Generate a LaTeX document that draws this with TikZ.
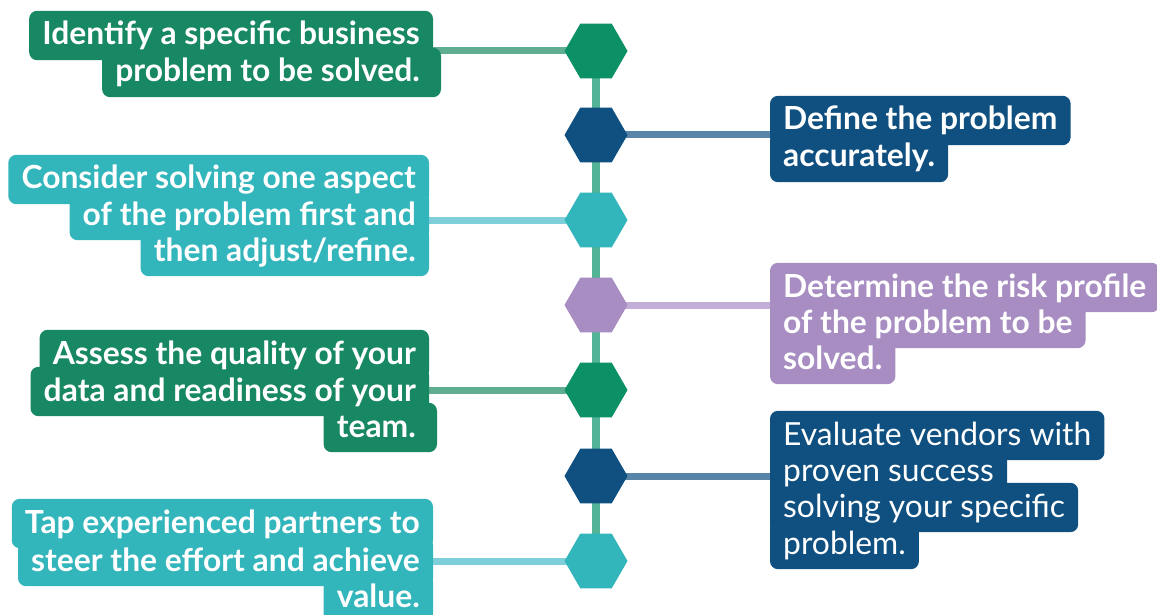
\documentclass[tikz,border=0pt]{standalone}
\usepackage{fontspec}
\setmainfont{Lato}
\usetikzlibrary{shapes.geometric,backgrounds}

\definecolor{hgreen}{HTML}{0C9066}
\definecolor{bgreen}{HTML}{178863}
\definecolor{lgreen}{HTML}{5FAE92}
\definecolor{spine}{HTML}{53B396}
\definecolor{navy}{HTML}{0F5080}
\definecolor{lnavy}{HTML}{5884A8}
\definecolor{cyanb}{HTML}{33B5BC}
\definecolor{lcyan}{HTML}{7ECFD9}
\definecolor{lilac}{HTML}{A78DC2}
\definecolor{llilac}{HTML}{C2AED7}

\begin{document}
\begin{tikzpicture}[x=1pt,y=-1pt,
    hex/.style={regular polygon,regular polygon sides=6,minimum size=63pt,inner sep=0pt},
    strip/.style={text=white,font=\fontsize{31.8}{36}\selectfont\bfseries,
      inner xsep=13pt,inner ysep=0pt,text height=34pt,text depth=15pt},
    lbox/.style={strip,anchor=base east},
    rbox/.style={strip,anchor=base west},
    thin/.style={font=\fontsize{31.8}{36}\selectfont},
    link/.style={line width=7pt}]
        \useasboundingbox (0,0) rectangle (1157,615);

        % steps on the spine
        \node[hex,fill=hgreen] (hid) at (596,51) {};
        \node[hex,fill=navy] (hdef) at (596,135) {};
        \node[hex,fill=cyanb] (hcon) at (596,220) {};
        \node[hex,fill=lilac] (hdet) at (596,305) {};
        \node[hex,fill=hgreen] (hass) at (596,390) {};
        \node[hex,fill=navy] (heva) at (596,476) {};
        \node[hex,fill=cyanb] (htap) at (596,561) {};

        % left column
        \node[lbox] (id1) at (433,45) {Identify a specific business};
        \node[lbox] (id2) at (433,82) {problem to be solved.};

        \node[lbox] (con1) at (429,189) {Consider solving one aspect};
        \node[lbox] (con2) at (429,225) {of the problem first and};
        \node[lbox] (con3) at (429,261) {then adjust/refine.};

        \node[lbox] (ass1) at (429,364) {Assess the quality of your};
        \node[lbox] (ass2) at (429,401) {data and readiness of your};
        \node[lbox] (ass3) at (429,437) {team.};

        \node[lbox] (tap1) at (433,533) {Tap experienced partners to};
        \node[lbox] (tap2) at (433,571) {steer the effort and achieve};
        \node[lbox] (tap3) at (433,607) {value.};

        % right column
        \node[rbox] (def1) at (770,130) {Define the problem};
        \node[rbox] (def2) at (770,167) {accurately.};

        \node[rbox] (det1) at (770,297) {Determine the risk profile};
        \node[rbox] (det2) at (770,333) {of the problem to be};
        \node[rbox] (det3) at (770,369) {solved.};

        \node[rbox,thin] (eva1) at (770,445) {Evaluate vendors with};
        \node[rbox,thin] (eva2) at (770,481) {proven success};
        \node[rbox,thin] (eva3) at (770,517) {solving your specific};
        \node[rbox,thin] (eva4) at (770,554) {problem.};

        \begin{pgfonlayer}{background}
          \draw[line width=8pt,spine] (hid.center) -- (htap.center);

          \draw[link,lgreen] (hid.center) -- (hid.center -| id1.east);
          \draw[link,lnavy] (hdef.center) -- (hdef.center -| def1.west);
          \draw[link,lcyan] (hcon.center) -- (hcon.center -| con2.east);
          \draw[link,llilac] (hdet.center) -- (hdet.center -| det1.west);
          \draw[link,lgreen] (hass.center) -- (hass.center -| ass2.east);
          \draw[link,lnavy] (heva.center) -- (heva.center -| eva2.west);
          \draw[link,lcyan] (htap.center) -- (htap.center -| tap2.east);

          % line backgrounds, kept under the text
          \foreach \n/\c in {id1/bgreen,con1/cyanb,con2/cyanb,con3/cyanb,
              ass1/bgreen,ass2/bgreen,tap1/cyanb,tap2/cyanb,tap3/cyanb,
              def1/navy,def2/navy,det1/lilac,det2/lilac,det3/lilac,
              eva1/navy,eva2/navy,eva3/navy,eva4/navy}
            \fill[\c,rounded corners=8pt] (\n.south west) rectangle (\n.north east);
          % these two stick out a bit on the right
          \fill[bgreen,rounded corners=8pt] (id2.south west) rectangle ([xshift=8pt]id2.north east);
          \fill[bgreen,rounded corners=8pt] (ass3.south west) rectangle ([xshift=8pt]ass3.north east);
        \end{pgfonlayer}
      \end{tikzpicture}
\end{document}
